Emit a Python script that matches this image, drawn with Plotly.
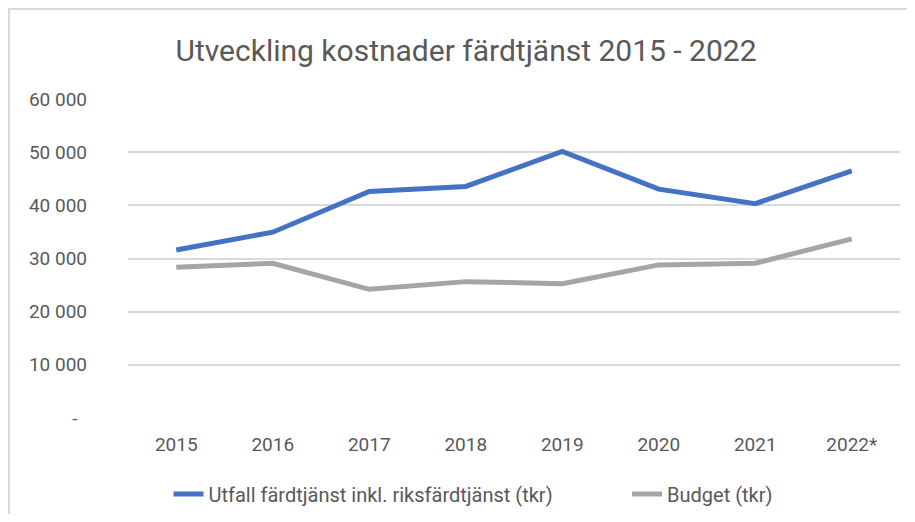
import plotly.graph_objects as go

years = ["2015", "2016", "2017", "2018", "2019", "2020", "2021", "2022*"]
utfall = [31600, 34950, 42600, 43550, 50150, 43050, 40300, 46500]
budget = [28350, 29100, 24200, 25650, 25250, 28800, 29100, 33700]
y_ticks = [0, 10000, 20000, 30000, 40000, 50000, 60000]
y_tick_labels = ["-\u00a0\u00a0", "10 000", "20 000", "30 000", "40 000", "50 000", "60 000"]
series_names = ["Utfall färdtjänst inkl. riksfärdtjänst (tkr)", "Budget (tkr)"]

FONT = "Roboto"
GREY_TXT = "#595959"
W, H = 899, 506
L, R, T, B = 120, 7, 91, 96
PW, PH = W - L - R, H - T - B
PAD = "\u00a0" * 14

fig = go.Figure()
fig.add_trace(go.Scatter(x=years, y=utfall, mode="lines",
                         name=series_names[0] + PAD,
                         line=dict(color="#4472C4", width=5)))
fig.add_trace(go.Scatter(x=years, y=budget, mode="lines",
                         name=series_names[1],
                         line=dict(color="#A5A5A5", width=5)))

fig.update_layout(
    width=W, height=H,
    paper_bgcolor="white", plot_bgcolor="white",
    margin=dict(l=L, r=R, t=T, b=B, autoexpand=False),
    font=dict(family=FONT, color=GREY_TXT, size=19),
    title=dict(text="Utveckling kostnader färdtjänst 2015 - 2022",
               x=458 / W, xanchor="center", y=1 - 42 / H, yanchor="middle",
               font=dict(family=FONT, size=30, color=GREY_TXT)),
    showlegend=True,
    legend=dict(orientation="h", x=(465 - L) / PW, xanchor="center",
                y=(PH - (486 - T)) / PH, yanchor="middle",
                font=dict(family=FONT, size=20, color=GREY_TXT)),
    xaxis=dict(type="category", range=[-0.5, 7.5], showgrid=False, showline=False,
               zeroline=False, ticks="", tickfont=dict(size=19, color=GREY_TXT),
               ticklabelstandoff=13),
    yaxis=dict(range=[0, 60000], tickvals=y_ticks, ticktext=y_tick_labels,
               showgrid=True, gridcolor="#D9D9D9", gridwidth=1.5,
               zeroline=False, showline=False, ticks="",
               tickfont=dict(size=19, color=GREY_TXT), ticklabelstandoff=40),
    shapes=[dict(type="rect", xref="paper", yref="paper",
                 x0=-(L - 1) / PW, x1=1.2, y0=-0.6, y1=1 + (T - 1) / PH,
                 line=dict(color="#D9D9D9", width=2), fillcolor="rgba(0,0,0,0)",
                 layer="below")],
)

fig.write_html("out.html")
